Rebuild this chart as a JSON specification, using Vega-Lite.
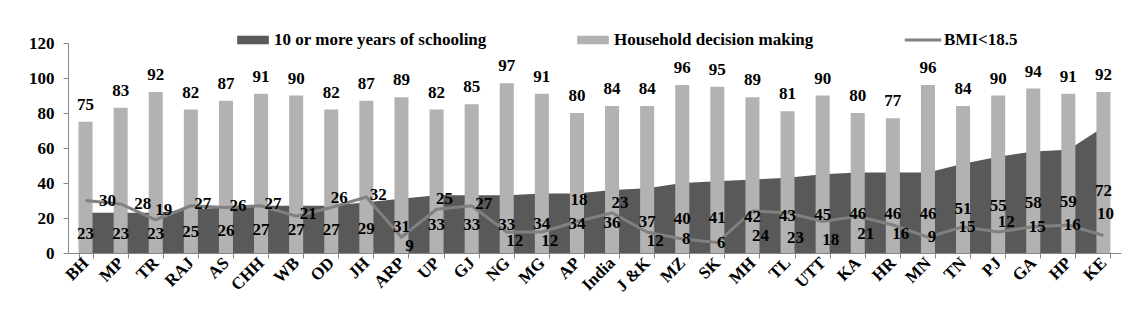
{
  "$schema": "https://vega.github.io/schema/vega-lite/v6.json",
  "width": 1053,
  "height": 210,
  "autosize": {"type": "none"},
  "padding": {"left": 68, "top": 43, "right": 18, "bottom": 75},
  "background": "white",
  "config": {
    "view": {"stroke": null},
    "font": "Liberation Serif",
    "axisY": {"labelOverlap": false, "grid": false},
    "text": {"font": "Liberation Serif", "fontWeight": "bold", "fontSize": 17, "color": "black"}
  },
  "data": {"values": [
    {"state": "BH", "school": 23, "decision": 75, "bmi": 30},
    {"state": "MP", "school": 23, "decision": 83, "bmi": 28},
    {"state": "TR", "school": 23, "decision": 92, "bmi": 19},
    {"state": "RAJ", "school": 25, "decision": 82, "bmi": 27},
    {"state": "AS", "school": 26, "decision": 87, "bmi": 26},
    {"state": "CHH", "school": 27, "decision": 91, "bmi": 27},
    {"state": "WB", "school": 27, "decision": 90, "bmi": 21},
    {"state": "OD", "school": 27, "decision": 82, "bmi": 26},
    {"state": "JH", "school": 29, "decision": 87, "bmi": 32},
    {"state": "ARP", "school": 31, "decision": 89, "bmi": 9},
    {"state": "UP", "school": 33, "decision": 82, "bmi": 25},
    {"state": "GJ", "school": 33, "decision": 85, "bmi": 27},
    {"state": "NG", "school": 33, "decision": 97, "bmi": 12},
    {"state": "MG", "school": 34, "decision": 91, "bmi": 12},
    {"state": "AP", "school": 34, "decision": 80, "bmi": 18},
    {"state": "India", "school": 36, "decision": 84, "bmi": 23},
    {"state": "J &K", "school": 37, "decision": 84, "bmi": 12},
    {"state": "MZ", "school": 40, "decision": 96, "bmi": 8},
    {"state": "SK", "school": 41, "decision": 95, "bmi": 6},
    {"state": "MH", "school": 42, "decision": 89, "bmi": 24},
    {"state": "TL", "school": 43, "decision": 81, "bmi": 23},
    {"state": "UTT", "school": 45, "decision": 90, "bmi": 18},
    {"state": "KA", "school": 46, "decision": 80, "bmi": 21},
    {"state": "HR", "school": 46, "decision": 77, "bmi": 16},
    {"state": "MN", "school": 46, "decision": 96, "bmi": 9},
    {"state": "TN", "school": 51, "decision": 84, "bmi": 15},
    {"state": "PJ", "school": 55, "decision": 90, "bmi": 12},
    {"state": "GA", "school": 58, "decision": 94, "bmi": 15},
    {"state": "HP", "school": 59, "decision": 91, "bmi": 16},
    {"state": "KE", "school": 72, "decision": 92, "bmi": 10}
  ]},
  "layer": [
    {
      "layer": [
        {
          "mark": {"type": "area", "interpolate": "linear"},
          "encoding": {
            "x": {"field": "state", "type": "nominal", "sort": null, "bandPosition": 0.5,
              "scale": {"paddingInner": 0.6, "paddingOuter": 0.3},
              "axis": {"title": null, "tickBand": "extent", "tickSize": 5, "tickColor": "#868686", "domainColor": "#868686",
                "labelAngle": -45, "labelAlign": "right", "labelBaseline": "middle", "labelPadding": 2, "labelOverlap": false,
                "labelFont": "Liberation Serif", "labelFontWeight": "bold", "labelFontSize": 17, "labelColor": "black", "grid": false}},
            "y": {"field": "school", "type": "quantitative", "scale": {"domain": [0, 120], "nice": false},
              "axis": {"title": null, "values": [0, 20, 40, 60, 80, 100, 120], "tickCount": 7, "labelOverlap": false, "grid": false, "tickSize": 5, "tickColor": "#868686", "domainColor": "#868686",
                "labelPadding": 9, "labelFont": "Liberation Serif", "labelFontWeight": "bold", "labelFontSize": 17, "labelColor": "black"}},
            "color": {"datum": "10 or more years of schooling", "type": "nominal",
              "scale": {"domain": ["10 or more years of schooling", "Household decision making", "BMI<18.5"], "range": ["#595959", "#b2b2b2", "#808080"]},
              "legend": {"orient": "none", "legendX": 169, "legendY": -19, "direction": "horizontal", "title": null,
                "labelFont": "Liberation Serif", "labelFontWeight": "bold", "labelFontSize": 17, "labelColor": "black", "labelLimit": 0,
                "symbolType": "M-1,-0.27H1V0.27H-1Z", "symbolSize": 1000, "columnPadding": 90, "gridAlign": "none", "labelOffset": 5,
                "symbolStrokeWidth": 0,
                "encode": {"symbols": {"update": {
                  "shape": {"signal": "datum.value === 'BMI<18.5' ? 'M-1.15,-0.1H1.15V0.1H-1.15Z' : 'M-1,-0.27H1V0.27H-1Z'"},
                  "fill": {"scale": "color", "field": "value"},
                  "strokeWidth": {"value": 0},
                  "opacity": {"value": 1}
                }}}}}
          }
        },
        {
          "mark": {"type": "bar"},
          "encoding": {
            "x": {"field": "state", "type": "nominal", "sort": null},
            "y": {"field": "decision", "type": "quantitative"},
            "color": {"datum": "Household decision making", "type": "nominal"}
          }
        },
        {
          "mark": {"type": "line", "strokeWidth": 3},
          "encoding": {
            "x": {"field": "state", "type": "nominal", "sort": null, "bandPosition": 0.5},
            "y": {"field": "bmi", "type": "quantitative"},
            "color": {"datum": "BMI<18.5", "type": "nominal"}
          }
        },
        {
          "mark": {"type": "text", "baseline": "alphabetic", "dy": -12},
          "encoding": {
            "x": {"field": "state", "type": "nominal", "sort": null, "bandPosition": 0.5},
            "y": {"field": "decision", "type": "quantitative"},
            "text": {"field": "decision", "type": "quantitative"}
          }
        },
        {
          "transform": [{"filter": {"field": "state", "oneOf": ["BH", "MP"]}}],
          "mark": {"type": "text", "baseline": "middle", "dx": 22, "dy": 0},
          "encoding": {
            "x": {"field": "state", "type": "nominal", "sort": null, "bandPosition": 0.5},
            "y": {"field": "bmi", "type": "quantitative"},
            "text": {"field": "bmi", "type": "quantitative"}
          }
        },
        {
          "transform": [{"filter": {"field": "state", "oneOf": ["RAJ", "AS", "CHH", "WB", "JH", "GJ"]}}],
          "mark": {"type": "text", "baseline": "middle", "dx": 12, "dy": -2},
          "encoding": {
            "x": {"field": "state", "type": "nominal", "sort": null, "bandPosition": 0.5},
            "y": {"field": "bmi", "type": "quantitative"},
            "text": {"field": "bmi", "type": "quantitative"}
          }
        },
        {
          "transform": [{"filter": {"field": "state", "oneOf": ["TR", "OD", "UP", "India", "PJ"]}}],
          "mark": {"type": "text", "baseline": "middle", "dx": 8, "dy": -10},
          "encoding": {
            "x": {"field": "state", "type": "nominal", "sort": null, "bandPosition": 0.5},
            "y": {"field": "bmi", "type": "quantitative"},
            "text": {"field": "bmi", "type": "quantitative"}
          }
        },
        {
          "transform": [{"filter": {"field": "state", "oneOf": ["AP", "KE"]}}],
          "mark": {"type": "text", "baseline": "middle", "dx": 2, "dy": -22},
          "encoding": {
            "x": {"field": "state", "type": "nominal", "sort": null, "bandPosition": 0.5},
            "y": {"field": "bmi", "type": "quantitative"},
            "text": {"field": "bmi", "type": "quantitative"}
          }
        },
        {
          "transform": [{"filter": {"field": "state", "oneOf": ["ARP", "NG", "MG", "J &K", "HR"]}}],
          "mark": {"type": "text", "baseline": "middle", "dx": 8, "dy": 9},
          "encoding": {
            "x": {"field": "state", "type": "nominal", "sort": null, "bandPosition": 0.5},
            "y": {"field": "bmi", "type": "quantitative"},
            "text": {"field": "bmi", "type": "quantitative"}
          }
        },
        {
          "transform": [{"filter": {"field": "state", "oneOf": ["MH", "TL"]}}],
          "mark": {"type": "text", "baseline": "middle", "dx": 8, "dy": 25},
          "encoding": {
            "x": {"field": "state", "type": "nominal", "sort": null, "bandPosition": 0.5},
            "y": {"field": "bmi", "type": "quantitative"},
            "text": {"field": "bmi", "type": "quantitative"}
          }
        },
        {
          "transform": [{"filter": {"field": "state", "oneOf": ["UTT", "KA"]}}],
          "mark": {"type": "text", "baseline": "middle", "dx": 8, "dy": 18},
          "encoding": {
            "x": {"field": "state", "type": "nominal", "sort": null, "bandPosition": 0.5},
            "y": {"field": "bmi", "type": "quantitative"},
            "text": {"field": "bmi", "type": "quantitative"}
          }
        },
        {
          "transform": [{"filter": {"field": "state", "oneOf": ["MZ", "SK", "MN", "TN", "GA", "HP"]}}],
          "mark": {"type": "text", "baseline": "middle", "dx": 4, "dy": 0},
          "encoding": {
            "x": {"field": "state", "type": "nominal", "sort": null, "bandPosition": 0.5},
            "y": {"field": "bmi", "type": "quantitative"},
            "text": {"field": "bmi", "type": "quantitative"}
          }
        }
      ]
    },
    {
      "mark": {"type": "text", "baseline": "middle", "dy": 1},
      "encoding": {
        "x": {"field": "state", "type": "nominal", "sort": null, "bandPosition": 0.5},
        "y": {"field": "school", "type": "quantitative", "scale": {"domain": [0, 240]}, "axis": null},
        "text": {"field": "school", "type": "quantitative"}
      }
    }
  ],
  "resolve": {"scale": {"y": "independent"}}
}
